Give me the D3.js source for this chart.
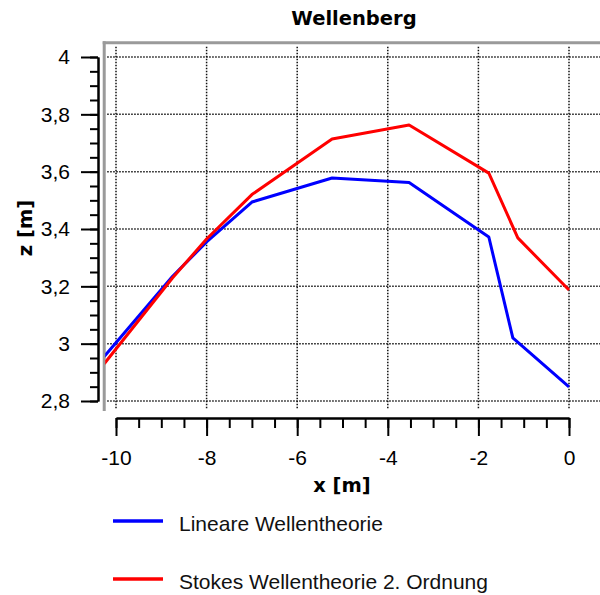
<!DOCTYPE html>
<html>
<head>
<meta charset="utf-8">
<script src="https://cdn.jsdelivr.net/npm/d3@7"></script>
<style>
  html, body { margin: 0; padding: 0; background: #fff; }
  svg { display: block; }
</style>
</head>
<body>
<svg id="chart" width="600" height="595"></svg>
<script>
// ---- data ----
const title = "Wellenberg";
const xLabel = "x [m]";
const yLabel = "z [m]";
const seriesNames = ["Lineare Wellentheorie", "Stokes Wellentheorie 2. Ordnung"];
const seriesColors = ["#0000ff", "#ff0000"];
const xLinear = [-10.26, -8.75, -8.0, -7.0, -5.23, -3.53, -1.77, -1.24, 0];
const zLinear = [2.955, 3.235, 3.355, 3.494, 3.578, 3.562, 3.372, 3.02, 2.849];
const xStokes = [-10.26, -8.75, -8.0, -7.0, -5.23, -3.53, -1.77, -1.13, 0];
const zStokes = [2.93, 3.23, 3.365, 3.52, 3.714, 3.763, 3.595, 3.369, 3.187];
const xTicks = [-10, -8, -6, -4, -2, 0];
const xMinorTicks = d3.range(-10, 0.001, 0.5);
const yTicks = [2.8, 3, 3.2, 3.4, 3.6, 3.8, 4];
const yMinorTicks = d3.range(2.8, 4.001, 0.05);

// ---- scales ----
const x = d3.scaleLinear().domain([-10, 0]).range([116, 569]);
const y = d3.scaleLinear().domain([2.8, 4]).range([401, 57]);
const plotLeft = x(-10.26), plotRight = 600;
const plotTop = y(4.05), plotBottom = y(2.765);

const svg = d3.select("#chart");
const fmt = d => String(+d.toFixed(2)).replace(".", ",");

// grid
const grid = svg.append("g").attr("stroke", "#111").attr("stroke-width", 1.5)
  .attr("stroke-dasharray", "1.5 1.5");
grid.selectAll(".gv").data(xTicks).join("line")
  .attr("x1", d => x(d)).attr("x2", d => x(d))
  .attr("y1", plotTop + 4).attr("y2", 409);
grid.selectAll(".gh").data(yTicks).join("line")
  .attr("x1", plotLeft + 3).attr("x2", plotRight)
  .attr("y1", d => y(d)).attr("y2", d => y(d));

// frame
svg.append("line").attr("x1", plotLeft).attr("x2", plotLeft)
  .attr("y1", plotTop - 1.5).attr("y2", plotBottom)
  .attr("stroke", "#9a9a9a").attr("stroke-width", 3);
svg.append("line").attr("x1", plotLeft - 1.5).attr("x2", plotRight)
  .attr("y1", plotTop).attr("y2", plotTop)
  .attr("stroke", "#9a9a9a").attr("stroke-width", 3);

// clip
svg.append("clipPath").attr("id", "clip").append("rect")
  .attr("x", plotLeft + 1).attr("y", plotTop).attr("width", plotRight - plotLeft)
  .attr("height", plotBottom - plotTop);

// lines
const line = d3.line().x(d => x(d[0])).y(d => y(d[1]));
const series = [d3.zip(xLinear, zLinear), d3.zip(xStokes, zStokes)];
svg.append("g").attr("clip-path", "url(#clip)")
  .selectAll("path").data(series).join("path")
  .attr("d", line).attr("fill", "none")
  .attr("stroke", (d, i) => seriesColors[i]).attr("stroke-width", 3)
  .attr("stroke-linejoin", "round");

// axes
const tickFont = "'Liberation Sans', Arial, sans-serif";
const yAxisG = svg.append("g").attr("transform", "translate(98,0)");
yAxisG.call(d3.axisLeft(y).tickValues(yMinorTicks).tickSize(8).tickSizeOuter(0).tickFormat(""));
yAxisG.call(g => g.selectAll(".tick text").remove());
const yMajor = svg.append("g").attr("transform", "translate(98,0)")
  .call(d3.axisLeft(y).tickValues(yTicks).tickSize(17).tickSizeOuter(0).tickPadding(11).tickFormat(fmt));
[yAxisG, yMajor].forEach(g => {
  g.selectAll("line, path").attr("stroke", "#000").attr("stroke-width", 2);
  g.selectAll("text").attr("font-family", tickFont).attr("font-size", 21).attr("fill", "#000");
});

const xAxisG = svg.append("g").attr("transform", "translate(0,418)");
xAxisG.call(d3.axisBottom(x).tickValues(xMinorTicks).tickSize(10).tickSizeOuter(0).tickFormat(""));
xAxisG.call(g => g.selectAll(".tick text").remove());
const xMajor = svg.append("g").attr("transform", "translate(0,418)")
  .call(d3.axisBottom(x).tickValues(xTicks).tickSize(18).tickSizeOuter(0).tickPadding(14).tickFormat(fmt));
[xAxisG, xMajor].forEach(g => {
  g.selectAll("line, path").attr("stroke", "#000").attr("stroke-width", 2);
  g.selectAll("text").attr("font-family", tickFont).attr("font-size", 21).attr("fill", "#000");
});

// titles
const boldFont = "'DejaVu Sans', Verdana, sans-serif";
svg.append("text").attr("x", 354).attr("y", 25).attr("text-anchor", "middle")
  .attr("font-family", boldFont).attr("font-weight", "bold").attr("font-size", 19.5)
  .text(title);
svg.append("text").attr("x", 342).attr("y", 492).attr("text-anchor", "middle")
  .attr("font-family", boldFont).attr("font-weight", "bold").attr("font-size", 19.5)
  .text(xLabel);
svg.append("text").attr("transform", "translate(32,228) rotate(-90)").attr("text-anchor", "middle")
  .attr("font-family", boldFont).attr("font-weight", "bold").attr("font-size", 19.5)
  .text(yLabel);

// legend
const legend = svg.append("g").selectAll("g").data(seriesNames).join("g")
  .attr("transform", (d, i) => `translate(113,${521 + i * 58})`);
legend.append("line").attr("x1", 0).attr("x2", 50).attr("y1", 0).attr("y2", 0)
  .attr("stroke", (d, i) => seriesColors[i]).attr("stroke-width", 3.5);
legend.append("text").attr("x", 66).attr("y", 10)
  .attr("font-family", tickFont).attr("font-size", 21).attr("fill", "#111")
  .text(d => d);
</script>
</body>
</html>
